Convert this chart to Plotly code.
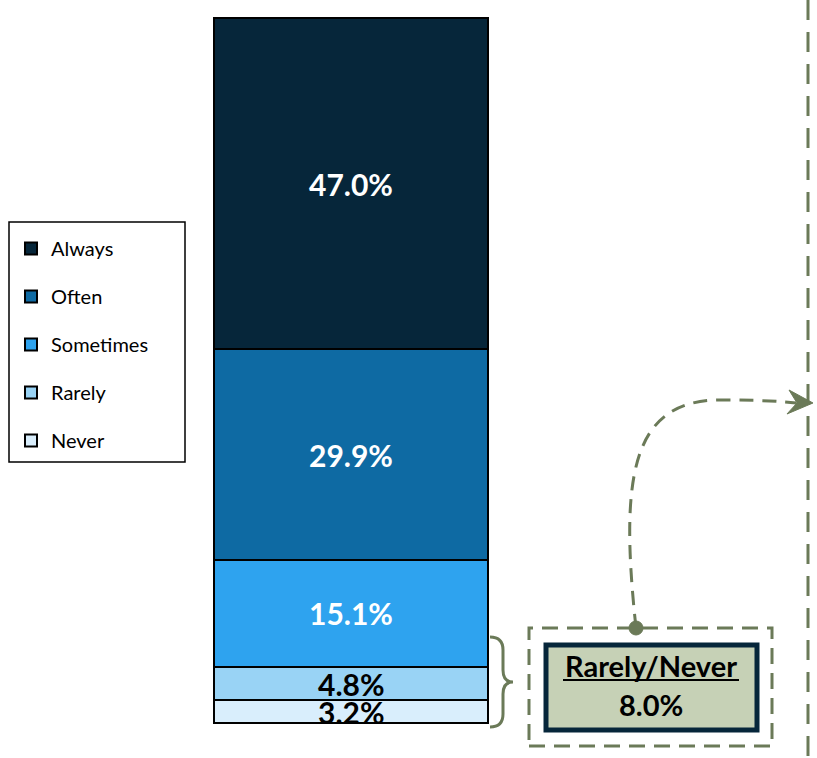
import plotly.graph_objects as go

W, H = 817, 758

categories = ["Never", "Rarely", "Sometimes", "Often", "Always"]
values = [3.2, 4.8, 15.1, 29.9, 47.0]
colors = ["#d9eefc", "#99d3f5", "#2ea3ef", "#0e6aa3", "#06263a"]
label_colors = ["black", "black", "white", "white", "white"]

callout_title = "Rarely/Never"
callout_value = values[0] + values[1]

green = "#6b7a58"
font = "Lato"


def px(x, y):
    # pixel position -> paper coords
    return x / W, 1 - y / H


def path(cmds):
    out = []
    for c in cmds:
        if isinstance(c, str):
            out.append(c)
        else:
            x, y = px(*c)
            out.append(f"{x:.5f},{y:.5f}")
    return " ".join(out)


def rect(x0, y0, x1, y1, **kw):
    a = px(x0, y0)
    b = px(x1, y1)
    return dict(type=kw.pop("type", "rect"), xref="paper", yref="paper",
                x0=a[0], y0=b[1], x1=b[0], y1=a[1], **kw)


fig = go.Figure()
n = len(categories)
for i, (cat, v, col) in enumerate(zip(categories, values, colors)):
    fig.add_trace(go.Bar(
        x=[0], y=[v], name=cat, legendgroup=cat, legendrank=n - i,
        marker=dict(color=col, line=dict(color="black", width=2)),
        width=1, hoverinfo="skip",
    ))

# segment labels
base = 0
for v, tc in zip(values, label_colors):
    fig.add_annotation(x=0, y=base + v / 2, xref="x", yref="y",
                       text=f"<b>{v:.1f}%</b>", showarrow=False,
                       font=dict(family=font, size=30, color=tc))
    base += v

shapes = []
# legend box
shapes.append(rect(9, 222, 185, 462, line=dict(color="black", width=1.5)))

# vertical dashed divider
a = px(808, 0)
b = px(808, H)
shapes.append(dict(type="line", xref="paper", yref="paper", x0=a[0], y0=a[1], x1=b[0], y1=b[1],
                   line=dict(color=green, width=3, dash="20px,12px")))

# brace
shapes.append(dict(type="path", xref="paper", yref="paper",
                   path=path(["M", (490, 637), "Q", (503, 637), (503, 650), "L", (503, 670),
                              "Q", (503, 682), (513, 682), "Q", (503, 682), (503, 694),
                              "L", (503, 714), "Q", (503, 727), (490, 727)]),
                   line=dict(color=green, width=3)))

# dashed callout frame
shapes.append(rect(529, 628, 772, 746, line=dict(color=green, width=3, dash="16px,9px")))

# callout box
shapes.append(rect(546, 645, 757, 730, fillcolor="#c6d1b6",
                   line=dict(color="#06263a", width=5)))

# underline of callout title
a = px(563, 680)
b = px(739, 680)
shapes.append(dict(type="line", xref="paper", yref="paper", x0=a[0], y0=a[1], x1=b[0], y1=b[1],
                   line=dict(color="black", width=2)))

# curved dashed arrow
shapes.append(dict(type="path", xref="paper", yref="paper",
                   path=path(["M", (636, 628), "C", (620, 480), (630, 400), (720, 400),
                              "C", (760, 400), (775, 401), (796, 403)]),
                   line=dict(color=green, width=3, dash="14px,9px")))
shapes.append(dict(type="path", xref="paper", yref="paper",
                   path=path(["M", (813, 403), "L", (789, 390), "L", (797, 403),
                              "L", (787, 414), "Z"]),
                   fillcolor=green, line=dict(color=green, width=1)))
# dot
shapes.append(rect(629, 621, 643, 635, type="circle", fillcolor=green,
                   line=dict(color=green, width=1)))

cx, cy = px(651, 665)
fig.add_annotation(x=cx, y=cy, xref="paper", yref="paper", showarrow=False,
                   xanchor="center", yanchor="middle",
                   text=f"<b>{callout_title}</b>",
                   font=dict(family=font, size=29, color="black"))
cx, cy = px(651, 704)
fig.add_annotation(x=cx, y=cy, xref="paper", yref="paper", showarrow=False,
                   xanchor="center", yanchor="middle",
                   text=f"<b>{callout_value:.1f}%</b>",
                   font=dict(family=font, size=29, color="black"))

lx, ly = px(11, 229)
fig.update_layout(
    width=W, height=H,
    margin=dict(l=0, r=0, t=0, b=0),
    barmode="stack",
    paper_bgcolor="white",
    plot_bgcolor="white",
    shapes=shapes,
    showlegend=True,
    legend=dict(x=lx, y=ly, xanchor="left", yanchor="top",
                traceorder="grouped", tracegroupgap=19,
                font=dict(family=font, size=20, color="black"),
                bgcolor="rgba(0,0,0,0)", borderwidth=0),
    xaxis=dict(range=[-351 / 274, (W - 351) / 274], visible=False, fixedrange=True),
    yaxis=dict(range=[-(H - 723) / 7.05, 723 / 7.05], visible=False, fixedrange=True),
    font=dict(family=font),
)

fig.write_html("out.html", config={"displayModeBar": False},
               post_script="document.body.style.margin='0';")
